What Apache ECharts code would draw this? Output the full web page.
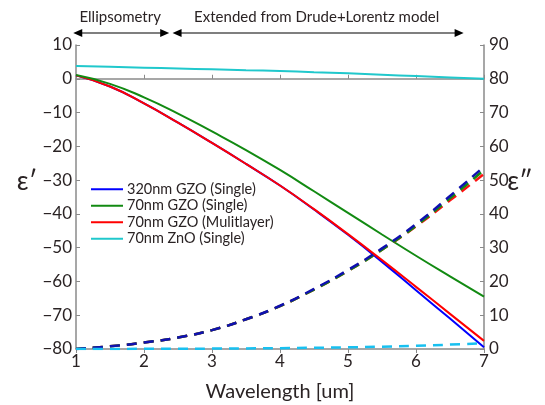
<!DOCTYPE html>
<html>
<head>
<meta charset="utf-8">
<script src="https://cdn.jsdelivr.net/npm/echarts@6/dist/echarts.min.js"></script>
<style>
  html, body { margin: 0; padding: 0; background: #fff; }
  #chart { width: 545px; height: 405px; }
</style>
</head>
<body>
<div id="chart"></div>
<script>
// wavelength in um
const wavelength = [1, 1.5, 2, 2.5, 3, 3.5, 4, 4.5, 5, 5.5, 6, 6.5, 7]

// real part (left axis)
const gzo320Re = [1.0, -2.3, -7.3, -13.0, -19.0, -25.2, -31.6, -38.7, -46.2, -54.2, -62.6, -71.0, -79.5]
const gzo70Re = [1.1, -1.5, -5.5, -10.3, -15.6, -21.1, -27.0, -33.3, -39.7, -46.1, -52.4, -58.5, -64.5]
const multiRe = [1.0, -2.3, -7.3, -13.0, -19.0, -25.2, -31.6, -38.6, -46.0, -53.7, -61.6, -69.6, -77.6]
const znoRe = [3.8, 3.55, 3.3, 3.05, 2.8, 2.55, 2.3, 1.95, 1.6, 1.2, 0.8, 0.4, 0.0]

// imaginary part (right axis)
const gzo320Im = [0, 0.8, 1.9, 3.4, 5.6, 8.8, 12.8, 17.8, 23.4, 29.8, 37.0, 45.3, 54.0]
const gzo70Im = [0, 0.8, 1.9, 3.4, 5.6, 8.8, 12.7, 17.6, 23.1, 29.4, 36.5, 44.6, 53.0]
const multiIm = [0, 0.8, 1.9, 3.4, 5.6, 8.8, 12.7, 17.6, 23.1, 29.4, 36.3, 44.0, 51.8]
const znoIm = [0, 0.02, 0.05, 0.08, 0.12, 0.18, 0.25, 0.36, 0.5, 0.7, 0.95, 1.3, 1.7]

const names = ['320nm GZO (Single)', '70nm GZO (Single)', '70nm GZO (Mulitlayer)', '70nm ZnO (Single)']
const colors = ['#0000ff', '#128a12', '#ff0000', '#20c8cc']
const dashColors = ['#1010b0', '#128a12', '#ff1010', '#18c0f0']

const font = 'Lato, "Open Sans", sans-serif'
const textColor = '#2a2324'
const axisColor = '#8a8a8a'

const pair = arr => arr.map((v, i) => [wavelength[i], v])
const minus = v => (v < 0 ? '\u2212' + Math.abs(v) : '' + v)

const chart = echarts.init(document.getElementById('chart'))

const solid = (name, data, color) => ({
  name: name,
  type: 'line',
  xAxisIndex: 0,
  yAxisIndex: 0,
  data: pair(data),
  smooth: true,
  symbol: 'none',
  lineStyle: { color: color, width: 2 },
  itemStyle: { color: color },
  animation: false
})
const dashed = (name, data, color) => ({
  name: name,
  type: 'line',
  xAxisIndex: 0,
  yAxisIndex: 1,
  data: pair(data),
  smooth: true,
  symbol: 'none',
  lineStyle: { color: color, width: 2.5, type: [10, 7] },
  itemStyle: { color: color },
  animation: false
})

const axisCommon = {
  axisLine: { show: true, lineStyle: { color: axisColor, width: 1.5 } },
  axisTick: { show: true, inside: true, length: 4, lineStyle: { color: axisColor } },
  splitLine: { show: false },
  axisLabel: { color: textColor, fontSize: 17, fontFamily: font }
}

chart.setOption({
  backgroundColor: '#fff',
  animation: false,
  grid: { left: 76, right: 61, top: 45, bottom: 56, containLabel: false },
  legend: {
    data: names,
    icon: 'rect',
    orient: 'vertical',
    left: 86,
    top: 176,
    itemWidth: 32,
    itemHeight: 2,
    itemGap: 0,
    textStyle: { color: textColor, fontSize: 14.5, fontFamily: font, lineHeight: 16.5, padding: [0, 0, 0, -1] }
  },
  xAxis: [
    Object.assign({}, axisCommon, {
      type: 'value', position: 'bottom', min: 1, max: 7, interval: 1,
      axisLabel: Object.assign({}, axisCommon.axisLabel, { margin: 4 })
    }),
    Object.assign({}, axisCommon, {
      type: 'value', position: 'top', min: 1, max: 7, interval: 1,
      axisLabel: { show: false }
    })
  ],
  yAxis: [
    Object.assign({}, axisCommon, {
      type: 'value', position: 'left', min: -80, max: 10, interval: 10,
      axisLabel: Object.assign({}, axisCommon.axisLabel, { margin: 4, formatter: minus })
    }),
    Object.assign({}, axisCommon, {
      type: 'value', position: 'right', min: 0, max: 90, interval: 10,
      axisLabel: Object.assign({}, axisCommon.axisLabel, { margin: 5 })
    })
  ],
  series: [
    solid(names[0], gzo320Re, colors[0]),
    solid(names[2], multiRe, colors[2]),
    solid(names[1], gzo70Re, colors[1]),
    solid(names[3], znoRe, colors[3]),
    dashed('70nm GZO (Mulitlayer) ε″', multiIm, dashColors[2]),
    dashed('70nm GZO (Single) ε″', gzo70Im, dashColors[1]),
    dashed('320nm GZO (Single) ε″', gzo320Im, dashColors[0]),
    dashed('70nm ZnO (Single) ε″', znoIm, dashColors[3])
  ]
})

// annotation arrows above the plot, placed from the x scale
const px = x => chart.convertToPixel({ xAxisIndex: 0 }, x)
const arrowY = 33
const arrow = (x1, x2) => {
  const a = px(x1)
  const b = px(x2)
  return [
    { type: 'line', shape: { x1: a + 4, y1: arrowY, x2: b - 4, y2: arrowY }, style: { stroke: '#000', lineWidth: 1.2 } },
    { type: 'polygon', shape: { points: [[a, arrowY], [a + 9, arrowY - 4], [a + 9, arrowY + 4]] }, style: { fill: '#000' } },
    { type: 'polygon', shape: { points: [[b, arrowY], [b - 9, arrowY - 4], [b - 9, arrowY + 4]] }, style: { fill: '#000' } }
  ]
}
const label = (x, text) => ({
  type: 'text', x: px(x), y: 17,
  style: { text: text, fill: textColor, fontSize: 15, fontFamily: font, align: 'center', verticalAlign: 'middle' }
})

chart.setOption({
  graphic: [].concat(
    arrow(0.96, 2.37),
    arrow(2.42, 6.7),
    [
      label(1.65, 'Ellipsometry'),
      label(4.54, 'Extended from Drude+Lorentz model'),
      { type: 'text', x: 280, y: 392, style: { text: 'Wavelength [um]', fill: textColor, fontSize: 20, fontFamily: font, align: 'center', verticalAlign: 'middle' } },
      { type: 'text', x: 27, y: 182, style: { text: 'ε′', fill: textColor, fontSize: 26, fontFamily: font, align: 'center', verticalAlign: 'middle' } },
      { type: 'text', x: 520, y: 182, style: { text: 'ε″', fill: textColor, fontSize: 26, fontFamily: font, align: 'center', verticalAlign: 'middle' } }
    ]
  )
})
</script>
</body>
</html>
